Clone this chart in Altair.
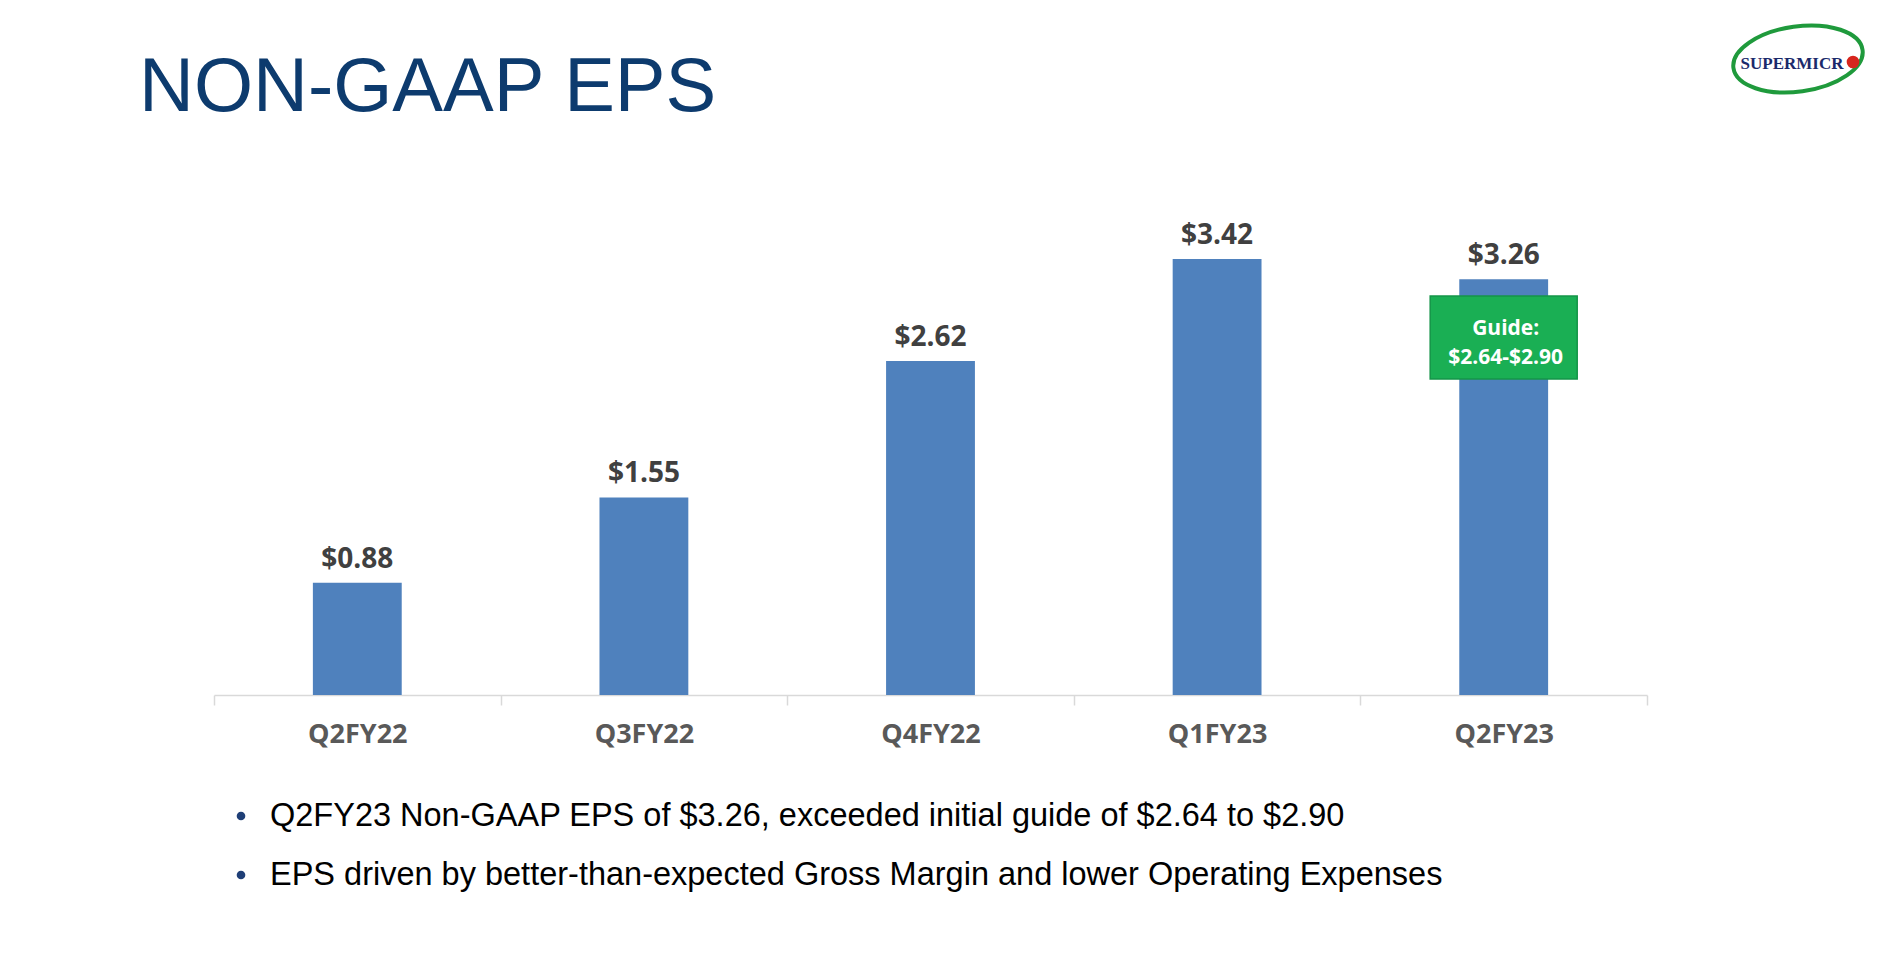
import altair as alt
import pandas as pd

# ---- data ----
quarters = ["Q2FY22", "Q3FY22", "Q4FY22", "Q1FY23", "Q2FY23"]
eps = [0.88, 1.55, 2.62, 3.42, 3.26]
eps_labels = ["$0.88", "$1.55", "$2.62", "$3.42", "$3.26"]
title_text = "NON-GAAP EPS"
guide_quarter = "Q2FY23"
guide_lines = ["Guide:", "$2.64-$2.90"]
bullets = [
    "Q2FY23 Non-GAAP EPS of $3.26, exceeded initial guide of $2.64 to $2.90",
    "EPS driven by better-than-expected Gross Margin and lower Operating Expenses",
]
logo_text = "SUPERMICR"

W, H = 1433, 510
SANS = "Liberation Sans, Arial, sans-serif"
BOLD = "Open Sans, Noto Sans, sans-serif"

df = pd.DataFrame({"quarter": quarters, "eps": eps, "label": eps_labels})
guide_df = df[df["quarter"] == guide_quarter]

x = alt.X(
    "quarter:N",
    sort=quarters,
    scale=alt.Scale(paddingInner=0, paddingOuter=0),
    axis=alt.Axis(
        title=None, labelAngle=0, labelFont=BOLD, labelFontWeight="bold",
        labelFontSize=27, labelColor="#595959", labelPadding=37,
        labelBaseline="alphabetic", domainColor="#d9d9d9", domainWidth=1.5,
        tickColor="#d9d9d9", tickWidth=1.5, tickSize=10, tickBand="extent",
        grid=False,
    ),
)
y = alt.Y("eps:Q", scale=alt.Scale(domain=[0, 4], nice=False, zero=True), axis=None)

bars = alt.Chart(df).mark_bar(color="#4f81bd", width=alt.RelativeBandSize(0.31)).encode(x=x, y=y)

labels = alt.Chart(df).mark_text(
    font=BOLD, fontWeight="bold", fontSize=28, color="#404040",
    baseline="alphabetic", dy=-15,
).encode(x=x, y=y, text="label:N")

guide_box = alt.Chart(guide_df).mark_bar(
    color="#1aaf54", stroke="#159548", strokeWidth=1.5,
    width=alt.RelativeBandSize(0.513),
).encode(x=x, y=alt.value(111), y2=alt.value(194))

guide_text = alt.Chart(guide_df).mark_text(
    text=guide_lines, font=BOLD, fontWeight="bold", fontSize=21,
    color="white", baseline="alphabetic", lineHeight=29, dx=2,
).encode(x=x, y=alt.value(150))

title = alt.Chart(pd.DataFrame({"t": [title_text]})).mark_text(
    align="left", baseline="alphabetic", font=SANS, fontSize=76, color="#0d3b6e",
).encode(x=alt.value(-75), y=alt.value(-74), text="t:N")

layers = [bars, labels, guide_box, guide_text, title]

bullet_y = [641, 700]
for txt, by in zip(bullets, bullet_y):
    bdf = pd.DataFrame({"t": [txt]})
    layers.append(
        alt.Chart(bdf).mark_point(shape="circle", filled=True, size=75, color="#1f3f77", opacity=1)
        .encode(x=alt.value(27), y=alt.value(by - 10))
    )
    layers.append(
        alt.Chart(bdf).mark_text(
            align="left", baseline="alphabetic", font=SANS, fontSize=32.5, color="#000000",
        ).encode(x=alt.value(56), y=alt.value(by), text="t:N")
    )

# logo
logo_df = pd.DataFrame({"t": [logo_text]})
ellipse = "M -1 0 A 1 0.5 0 1 1 1 0 A 1 0.5 0 1 1 -1 0 Z"
layers.append(
    alt.Chart(logo_df).mark_point(
        shape=ellipse, size=17000, filled=False, stroke="#1f9a3c", strokeWidth=4,
        angle=352, opacity=1,
    ).encode(x=alt.value(1584), y=alt.value(-126))
)
layers.append(
    alt.Chart(logo_df).mark_text(
        font="Liberation Serif, DejaVu Serif, serif", fontWeight="bold", fontSize=17,
        color="#1b2a6b", baseline="alphabetic",
    ).encode(x=alt.value(1578), y=alt.value(-116), text="t:N")
)
layers.append(
    alt.Chart(logo_df).mark_point(
        shape="circle", filled=True, size=160, color="#d7261e", opacity=1,
    ).encode(x=alt.value(1639), y=alt.value(-123))
)

chart = alt.layer(*layers).properties(
    width=W, height=H,
    padding={"left": 206, "top": 177, "right": 220, "bottom": 260},
    autosize=alt.AutoSizeParams(type="none"),
    background="white",
).configure_view(stroke=None)

chart.save("out.html", embed_options={"renderer": "svg", "actions": False})
